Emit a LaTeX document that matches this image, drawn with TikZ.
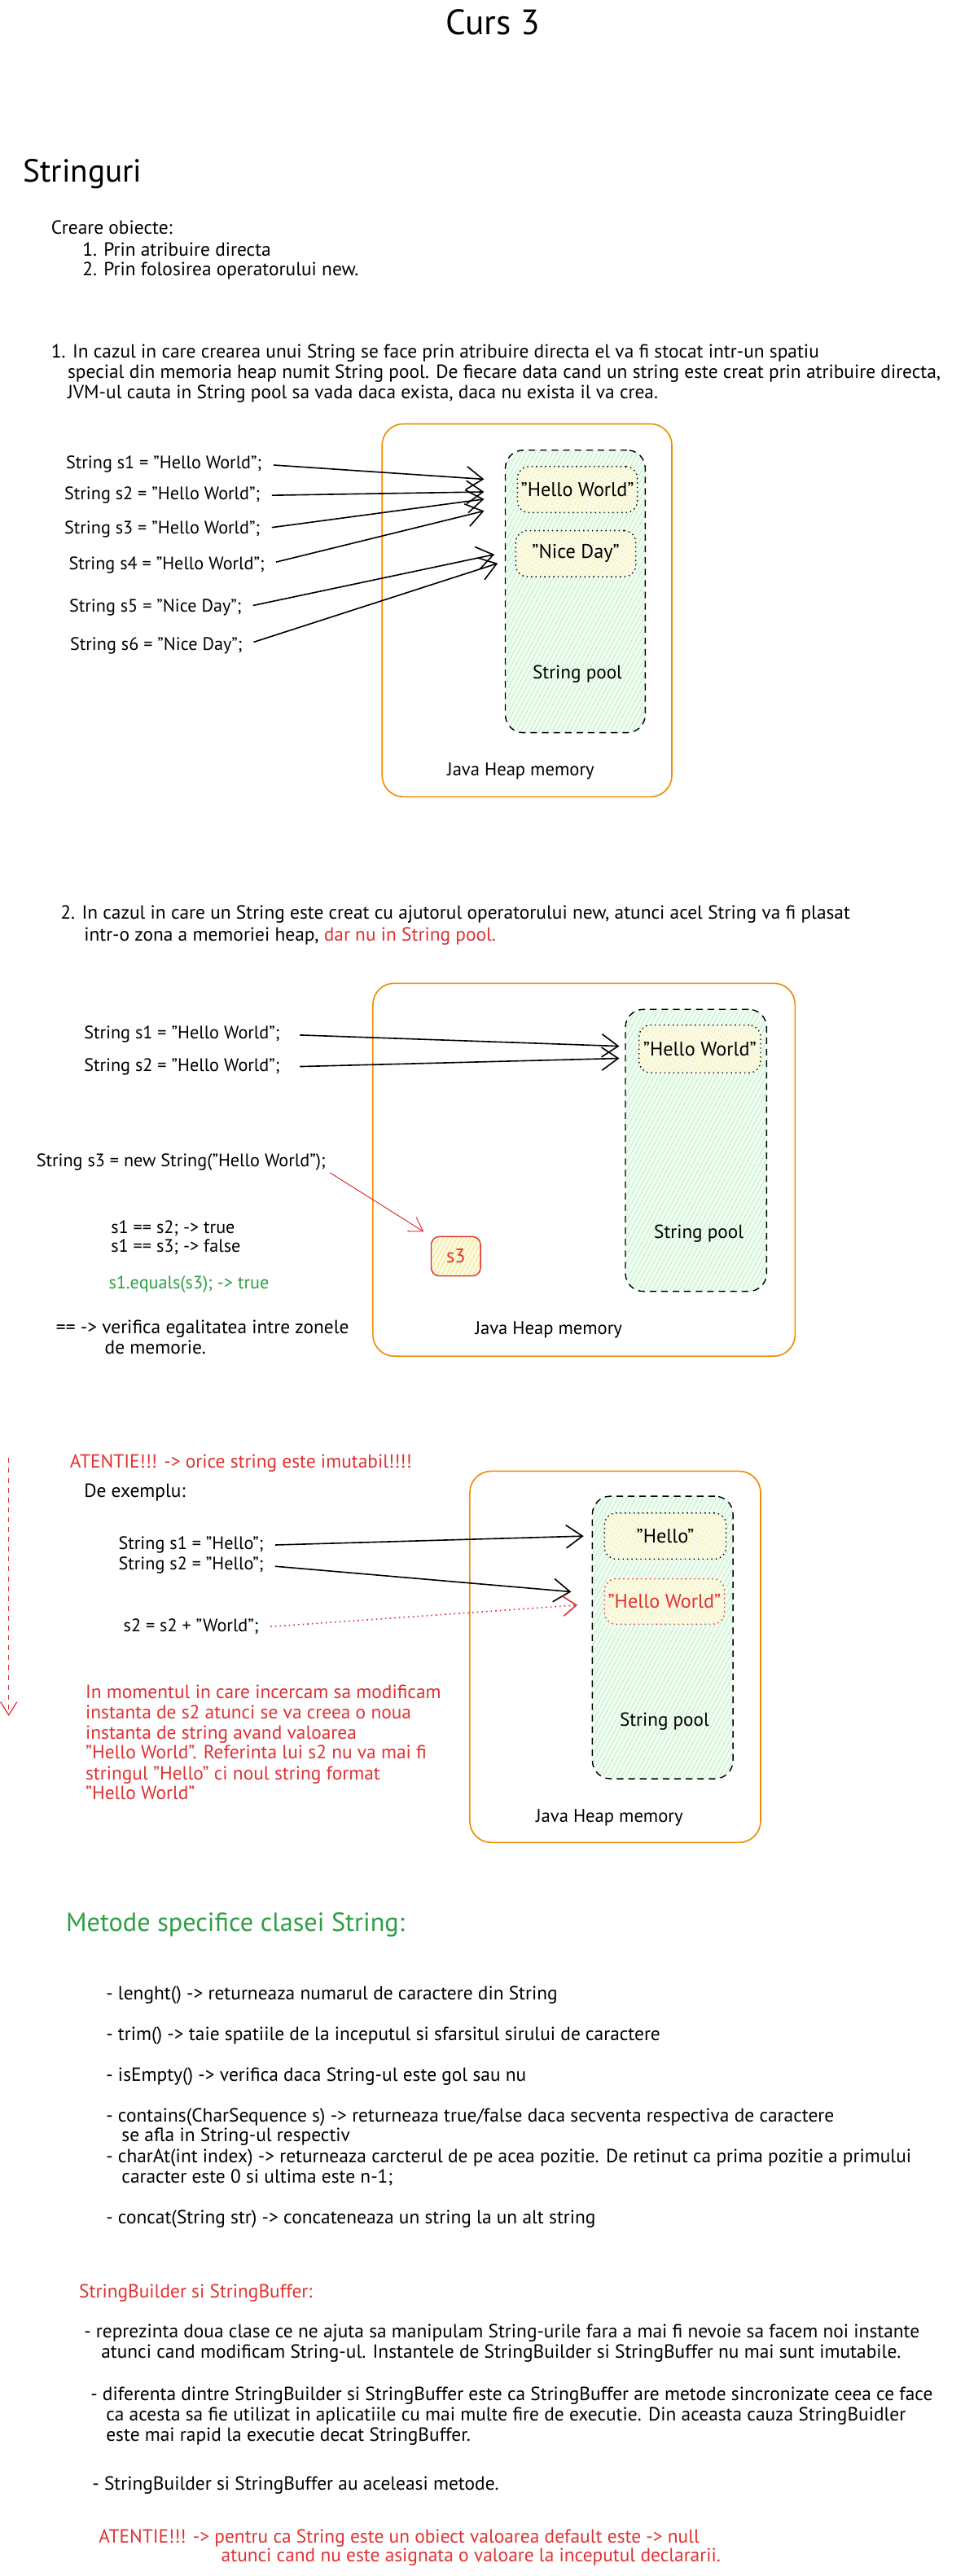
\documentclass[tikz,border=0pt]{standalone}
\usepackage{fontspec}
\setmainfont{PT Sans}
\usetikzlibrary{arrows.meta,patterns.meta}
\definecolor{orng}{HTML}{F08C00}
\definecolor{rd}{HTML}{E03131}
\definecolor{gr}{HTML}{2F9E44}
\definecolor{poolln}{HTML}{B2F2BB}
\definecolor{poolbg}{HTML}{F2FCF3}
\definecolor{yelln}{HTML}{FFE066}
\definecolor{yelbg}{HTML}{F8FAE4}
\begin{document}
\begin{tikzpicture}[x=1pt,y=-1pt,
  txt/.style={anchor=west, inner sep=0pt, text height=7.5pt, text depth=2pt, font=\fontsize{11.6}{13}\selectfont},
  lbl/.style={txt, font=\fontsize{11}{13}\selectfont},
  ctxt/.style={txt, anchor=center},
  heap/.style={draw=orng, line width=0.8pt, rounded corners=13pt, inner sep=0pt},
  pool/.style={draw=black, dash pattern=on 4pt off 3pt, line width=0.7pt, rounded corners=11pt, inner sep=0pt,
     preaction={fill=poolbg},
     preaction={pattern={Lines[angle=62,distance=2.4pt,line width=0.35pt]}, pattern color=poolln}},
  val/.style={draw=black, dash pattern=on 0.7pt off 2pt, line width=0.7pt, rounded corners=7pt, inner sep=0pt,
     font=\fontsize{12}{14}\selectfont,
     preaction={fill=yelbg},
     preaction={pattern={Lines[angle=62,distance=2.4pt,line width=0.35pt]}, pattern color=yelln}},
  arr/.style={draw=black, line width=0.8pt, -{Straight Barb[length=10pt,width=14pt]}},
  redarr/.style={draw=rd, line width=0.5pt, -{Straight Barb[length=8pt,width=10pt]}},
  rdot/.style={draw=rd, line width=0.8pt, dash pattern=on 0.8pt off 2pt, -{Straight Barb[length=8pt,width=12pt]}},
  rdash/.style={draw=rd, line width=0.6pt, dash pattern=on 3pt off 3pt, -{Straight Barb[length=8pt,width=10pt]}}
]
\fill[white] (0,0) rectangle (587,1568);
\useasboundingbox (0,0) rectangle (587,1568);

% ---------- header ----------
\node[ctxt, font=\fontsize{21.5}{24}\selectfont, text height=15pt, text depth=4pt] (title) at (300,15.7) {Curs 3};
\node[txt, font=\fontsize{19.5}{22}\selectfont, text height=14pt, text depth=4pt] (strg) at (14,105.8) {Stringuri};
\node[txt] (cr0) at (31,140) {Creare obiecte:};
\node[txt] (cr1) at (50,153) {1. Prin atribuire directa};
\node[txt] (cr2) at (50,165) {2. Prin folosirea operatorului new.};

% ---------- section 1 ----------
\node[txt] (p1a) at (31,215) {1. In cazul in care crearea unui String se face prin atribuire directa el va fi stocat intr-un spatiu};
\node[txt] (p1b) at (41,227.6) {special din memoria heap numit String pool. De fiecare data cand un string este creat prin atribuire directa,};
\node[txt] (p1c) at (41,240) {JVM-ul cauta in String pool sa vada daca exista, daca nu exista il va crea.};

\node[heap, minimum width=176.4pt, minimum height=227pt] (heap1) at (320.8,371.5) {};
\node[pool, minimum width=85.2pt, minimum height=172pt] (pool1) at (350.2,360) {};
\node[val, minimum width=73pt, minimum height=28pt] (hw1) at (351.5,298) {"Hello World"};
\node[val, minimum width=73pt, minimum height=28pt] (nd1) at (350.5,337) {"Nice Day"};
\node[ctxt, font=\fontsize{11.5}{13}\selectfont] (pl1) at (351.5,410.5) {String pool};
\node[ctxt, font=\fontsize{11.2}{13}\selectfont] (jh1) at (317,469.5) {Java Heap memory};

\node[lbl] (l1) at (40,282.6) {String s1 = "Hello World";};
\node[lbl] (l2) at (39,301.6) {String s2 = "Hello World";};
\node[lbl] (l3) at (39,322) {String s3 = "Hello World";};
\node[lbl] (l4) at (41.7,343.8) {String s4 = "Hello World";};
\node[lbl] (l5) at (42,370) {String s5 = "Nice Day";};
\node[lbl] (l6) at (42.5,393) {String s6 = "Nice Day";};

\coordinate (e1) at (294.7,291.7);
\coordinate (e2) at (294.7,299.4);
\coordinate (e3) at (294.7,303.8);
\coordinate (e4) at (294.7,311);
\coordinate (e5) at (301,337.5);
\coordinate (e6) at (303,342.9);
\draw[arr, shorten <=7pt] (l1.east) -- (e1);
\draw[arr, shorten <=7pt] (l2.east) -- (e2);
\draw[arr, shorten <=7pt] (l3.east) -- (e3);
\draw[arr, shorten <=7pt] (l4.east) -- (e4);
\draw[arr, shorten <=7pt] (l5.east) -- (e5);
\draw[arr, shorten <=7pt] (l6.east) -- (e6);

% ---------- section 2 ----------
\node[txt] (p2a) at (36.7,556.9) {2. In cazul in care un String este creat cu ajutorul operatorului new, atunci acel String va fi plasat};
\node[txt] (p2b) at (51,570) {intr-o zona a memoriei heap, \textcolor{rd}{dar nu in String pool.}};

\node[heap, minimum width=257pt, minimum height=227pt] (heap2) at (355.5,712) {};
\node[pool, minimum width=86pt, minimum height=171.7pt] (pool2) at (423.7,700.2) {};
\node[val, minimum width=74pt, minimum height=29pt] (hw2) at (426,638.5) {"Hello World"};
\node[ctxt, font=\fontsize{11.5}{13}\selectfont] (pl2) at (425.4,751) {String pool};
\node[ctxt, font=\fontsize{11.2}{13}\selectfont] (jh2) at (334,809.7) {Java Heap memory};
\node[val, draw=rd, solid, rounded corners=5pt, minimum width=30pt, minimum height=24pt, text=rd] (s3b) at (277.5,764.7) {s3};

\node[lbl] (m1) at (51,629.6) {String s1 = "Hello World";};
\node[lbl] (m2) at (51,649.5) {String s2 = "Hello World";};
\coordinate (f1) at (377,636.8);
\coordinate (f2) at (377,644.2);
\draw[arr, shorten <=12pt] (m1.east) -- (f1);
\draw[arr, shorten <=12pt] (m2.east) -- (f2);

\node[lbl] (ns) at (22,707.3) {String s3 = new String("Hello World");};
\draw[redarr, shorten <=3pt, shorten >=5pt] (ns.south east) -- (s3b.north west);

\node[lbl] (c1) at (67.4,747.8) {s1 == s2; -> true};
\node[lbl] (c2) at (67.4,759.4) {s1 == s3; -> false};
\node[lbl, text=gr] (c3) at (66,781.7) {s1.equals(s3); -> true};
\node[txt] (c4) at (34,809) {== -> verifica egalitatea intre zonele};
\node[txt] (c5) at (63.6,821.4) {de memorie.};

% ---------- section 3 ----------
\coordinate (va) at (5.3,887.5);
\coordinate (vb) at (5.3,1044.5);
\draw[rdash] (va) -- (vb);

\node[txt, text=rd] (at1) at (42.4,890.8) {ATENTIE!!! -> orice string este imutabil!!!!};
\node[txt] (ex) at (51,908.6) {De exemplu:};

\node[heap, minimum width=177pt, minimum height=226pt] (heap3) at (374.5,1008.5) {};
\node[pool, minimum width=85.6pt, minimum height=172pt] (pool3) at (403.4,996.7) {};
\node[val, minimum width=74pt, minimum height=28pt] (he3) at (405,935) {"Hello"};
\node[val, draw=rd, text=rd, minimum width=73pt, minimum height=27.6pt] (hw3) at (404.5,974.8) {"Hello World"};
\node[ctxt, font=\fontsize{11.5}{13}\selectfont] (pl3) at (404.5,1047.7) {String pool};
\node[ctxt, font=\fontsize{11.2}{13}\selectfont] (jh3) at (371,1106.5) {Java Heap memory};

\node[lbl] (n1) at (72,940.6) {String s1 = "Hello";};
\node[lbl] (n2) at (72,952.8) {String s2 = "Hello";};
\node[lbl] (n3) at (75,990.6) {s2 = s2 + "World";};
\coordinate (g1) at (355.3,935);
\coordinate (g2) at (347.7,968.9);
\coordinate (g3) at (351.5,977);
\draw[arr, shorten <=7pt] (n1.east) -- (g1);
\draw[arr, shorten <=7pt] (n2.east) -- (g2);
\draw[rdot, shorten <=7pt] (n3.east) -- (g3);

\node[txt, text=rd] (r1) at (51.9,1031.2) {In momentul in care incercam sa modificam};
\node[txt, text=rd] (r2) at (51.9,1043.7) {instanta de s2 atunci se va creea o noua};
\node[txt, text=rd] (r3) at (51.9,1055.7) {instanta de string avand valoarea};
\node[txt, text=rd] (r4) at (51.9,1068) {"Hello World". Referinta lui s2 nu va mai fi};
\node[txt, text=rd] (r5) at (51.9,1080.5) {stringul "Hello" ci noul string format};
\node[txt, text=rd] (r6) at (51.9,1092.7) {"Hello World"};

% ---------- methods ----------
\node[txt, text=gr, font=\fontsize{16}{19}\selectfont, text height=11pt, text depth=3.5pt] (mt) at (40,1171.7) {Metode specifice clasei String:};
\node[txt] (d1) at (64.4,1214.7) {- lenght() -> returneaza numarul de caractere din String};
\node[txt] (d2) at (64.4,1239.5) {- trim() -> taie spatiile de la inceputul si sfarsitul sirului de caractere};
\node[txt] (d3) at (64.4,1264.3) {- isEmpty() -> verifica daca String-ul este gol sau nu};
\node[txt] (d4) at (64.4,1289) {- contains(CharSequence s) -> returneaza true/false daca secventa respectiva de caractere};
\node[txt] (d4b) at (73.9,1301) {se afla in String-ul respectiv};
\node[txt] (d5) at (64.4,1313.8) {- charAt(int index) -> returneaza carcterul de pe acea pozitie. De retinut ca prima pozitie a primului};
\node[txt] (d5b) at (73.9,1326.2) {caracter este 0 si ultima este n-1;};
\node[txt] (d6) at (64.4,1351) {- concat(String str) -> concateneaza un string la un alt string};

% ---------- StringBuilder ----------
\node[txt, text=rd] (sb) at (48,1396) {StringBuilder si StringBuffer:};
\node[txt] (b1) at (51,1420.4) {- reprezinta doua clase ce ne ajuta sa manipulam String-urile fara a mai fi nevoie sa facem noi instante};
\node[txt] (b1b) at (61.4,1432.4) {atunci cand modificam String-ul. Instantele de StringBuilder si StringBuffer nu mai sunt imutabile.};
\node[txt] (b2) at (55,1458.6) {- diferenta dintre StringBuilder si StringBuffer este ca StringBuffer are metode sincronizate ceea ce face};
\node[txt] (b2b) at (64.4,1470.8) {ca acesta sa fie utilizat in aplicatiile cu mai multe fire de executie. Din aceasta cauza StringBuidler};
\node[txt] (b2c) at (64.4,1483.3) {este mai rapid la executie decat StringBuffer.};
\node[txt] (b3) at (56,1513) {- StringBuilder si StringBuffer au aceleasi metode.};
\node[txt, text=rd] (b4) at (60,1545) {ATENTIE!!! -> pentru ca String este un obiect valoarea default este -> null};
\node[txt, text=rd] (b4b) at (134.5,1556.8) {atunci cand nu este asignata o valoare la inceputul declararii.};
\end{tikzpicture}
\end{document}
